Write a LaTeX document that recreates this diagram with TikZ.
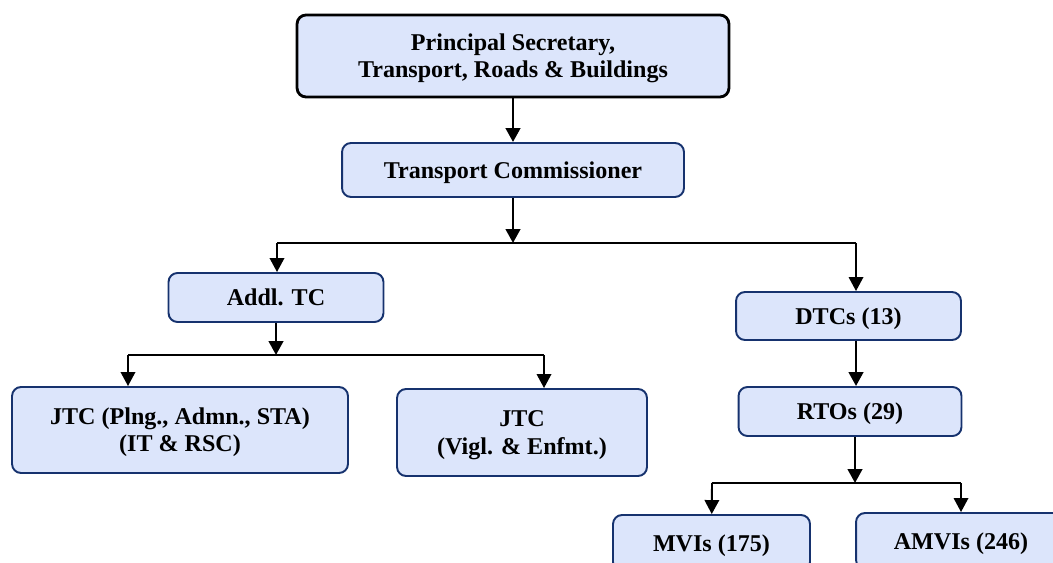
\documentclass[tikz,border=0pt]{standalone}
\usepackage{fontspec}
\setmainfont{Liberation Serif}
\usetikzlibrary{arrows.meta}
\definecolor{boxfill}{RGB}{220,229,251}
\definecolor{boxline}{RGB}{22,50,110}
\begin{document}
\begin{tikzpicture}[x=0.02cm, y=-0.02cm,
	box/.style={draw=boxline, fill=boxfill, line width=1.1pt, rounded corners=0.18cm, align=center, inner sep=0pt, text depth=0pt, font=\bfseries\fontsize{13.7}{15.4}\selectfont},
	arr/.style={-{Triangle[length=0.28cm, width=0.29cm]}, line width=1.1pt},
	shaft/.style={line width=1.6pt}]
\clip (0,0) rectangle (1053,563);

\node[box, draw=black, line width=1.6pt, minimum width=8.64cm, minimum height=1.64cm] (ps) at (513,56) {Principal Secretary,\\Transport, Roads \& Buildings};
\node[box, minimum width=6.84cm, minimum height=1.08cm] (tc) at (513,170) {Transport Commissioner};

\node[box, minimum width=4.3cm, minimum height=0.98cm] (addl) at (276,297.5) {Addl. TC};
\node[box, minimum width=4.5cm, minimum height=0.96cm] (dtc) at (848.5,316) {DTCs (13)};
\node[box, minimum width=4.46cm, minimum height=0.98cm] (rto) at (850,411.5) {RTOs (29)};

\node[box, minimum width=6.72cm, minimum height=1.72cm] (jtc1) at (180,430) {JTC (Plng., Admn., STA)\\(IT \& RSC)};
\node[box, minimum width=5cm, minimum height=1.74cm] (jtc2) at (522,432.5) {JTC\\(Vigl. \& Enfmt.)};

\node[box, minimum width=3.94cm, minimum height=1.12cm] (mvi) at (711.5,543) {MVIs (175)};
\node[box, minimum width=4.2cm, minimum height=1.12cm] (amvi) at (961,541) {AMVIs (246)};

\coordinate (b1) at (513,243);
\coordinate (b1l) at (277,243);
\coordinate (b1r) at (856,243);
\coordinate (b2) at (276,355);
\coordinate (b2l) at (128,355);
\coordinate (b2r) at (544,355);
\coordinate (b3) at (855,483);
\coordinate (b3l) at (712,483);
\coordinate (b3r) at (961,483);

\draw[arr, shaft] (ps) -- (tc);
\draw[arr, shaft] (tc) -- (b1);
\draw[line width=1.1pt] (b1l) -- (b1r);
\draw[arr] (b1l) -- (b1l |- addl.north);
\draw[arr] (b1r) -- (b1r |- dtc.north);

\draw[arr, shaft] (addl) -- (b2);
\draw[line width=1.1pt] (b2l) -- (b2r);
\draw[arr] (b2l) -- (b2l |- jtc1.north);
\draw[arr] (b2r) -- (b2r |- jtc2.north);

\draw[arr, shaft] (b1r |- dtc.south) -- (b1r |- rto.north);
\draw[arr, shaft] (b3 |- rto.south) -- (b3);
\draw[line width=1.1pt] (b3l) -- (b3r);
\draw[arr] (b3l) -- (mvi);
\draw[arr] (b3r) -- (amvi);
\end{tikzpicture}
\end{document}
